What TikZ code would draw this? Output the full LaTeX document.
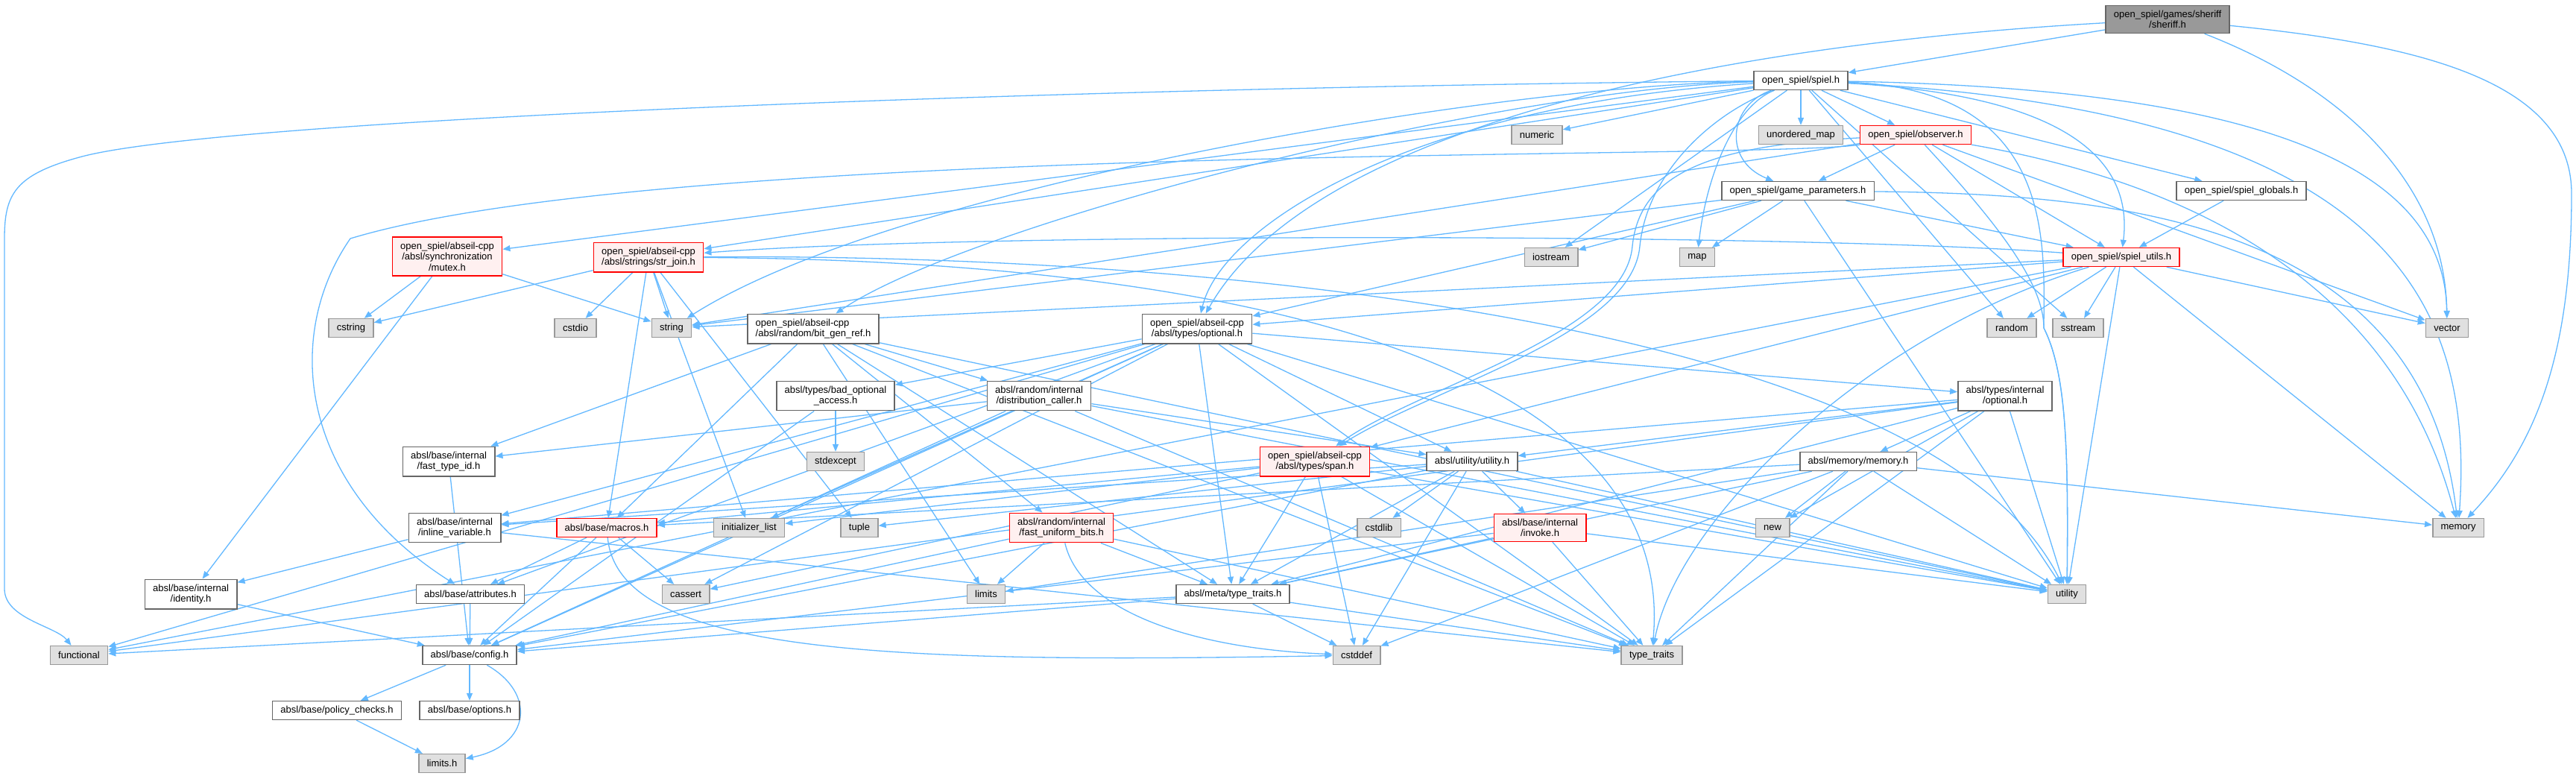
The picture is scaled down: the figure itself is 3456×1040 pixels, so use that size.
\documentclass[tikz,border=0pt]{standalone}
\usepackage{fontspec}
\usepackage{tikz}
\usetikzlibrary{arrows.meta}
\usetikzlibrary{backgrounds}
\newfontfamily\dotfont{Liberation Sans}
\definecolor{dx-edge}{HTML}{63B8FF}
\definecolor{dx-line}{HTML}{666666}
\definecolor{dx-sysfill}{HTML}{E0E0E0}
\definecolor{dx-sysline}{HTML}{999999}
\definecolor{dx-trunc}{HTML}{FFF0F0}
\definecolor{dx-root}{HTML}{999999}

\begin{document}
\begin{tikzpicture}[x=0.5pt, y=-0.5pt, >={Triangle[length=5pt, width=4pt]},
    file/.style={draw=dx-line, fill=white, line width=0.75pt, align=center,
        inner xsep=5.4pt, inner ysep=3.2pt, minimum height=12.4pt,
        font=\dotfont\fontsize{6.5}{7.3}\selectfont},
    sys/.style={file, draw=dx-sysline, fill=dx-sysfill},
    trunc/.style={file, draw=red, fill=dx-trunc},
    root/.style={file, fill=dx-root},
    dep/.style={->, dx-edge, line width=0.65pt}]
    \useasboundingbox (0,0) rectangle (3456,1040);

    % --- Headers of open_spiel ---
    \node[root] (sh) at (2908,26) {open\_spiel/games/sheriff\\/sheriff.h};
    \node[file] (sp) at (2416,108) {open\_spiel/spiel.h};
    \node[sys] (umap) at (2416,181) {unordered\_map};
    \node[trunc] (obs) at (2570,181) {open\_spiel/observer.h};
    \node[sys] (num) at (2062,181) {numeric};
    \node[file] (gp) at (2412,256) {open\_spiel/game\_parameters.h};
    \node[file] (glob) at (3007,256) {open\_spiel/spiel\_globals.h};
    \node[trunc] (su) at (2846,345) {open\_spiel/spiel\_utils.h};
    \node[sys] (ios) at (2081,345) {iostream};
    \node[sys] (map) at (2277,345) {map};
    \node[sys] (rnd) at (2699,440) {random};
    \node[sys] (sst) at (2788,440) {sstream};
    \node[sys] (vec) at (3283,440) {vector};

    % --- Headers of abseil ---
    \node[trunc] (mtx) at (600,344) {open\_spiel/abseil-cpp\\/absl/synchronization\\/mutex.h};
    \node[trunc] (sj) at (870,345) {open\_spiel/abseil-cpp\\/absl/strings/str\_join.h};
    \node[sys] (cstr) at (471,440) {cstring};
    \node[sys] (cstdio) at (772,440) {cstdio};
    \node[sys] (str) at (901,440) {string};
    \node[file, align=left] (bgr) at (1091,441) {open\_spiel/abseil-cpp\\/absl/random/bit\_gen\_ref.h};
    \node[file] (opt) at (1606,441) {open\_spiel/abseil-cpp\\/absl/types/optional.h};
    \node[file] (bad) at (1121,531) {absl/types/bad\_optional\\\_access.h};
    \node[file] (dc) at (1394,531) {absl/random/internal\\/distribution\_caller.h};
    \node[file] (iopt) at (2690,531) {absl/types/internal\\/optional.h};
    \node[file] (fti) at (602,619) {absl/base/internal\\/fast\_type\_id.h};
    \node[sys] (stdx) at (1121,619) {stdexcept};
    \node[trunc] (span) at (1764,619) {open\_spiel/abseil-cpp\\/absl/types/span.h};
    \node[file] (uu) at (1975,619) {absl/utility/utility.h};
    \node[file] (mm) at (2493,619) {absl/memory/memory.h};
    \node[file] (iv) at (610,708) {absl/base/internal\\/inline\_variable.h};
    \node[trunc] (mac) at (814,708) {absl/base/macros.h};
    \node[sys] (ilist) at (1005,708) {initializer\_list};
    \node[sys] (tup) at (1153,708) {tuple};
    \node[trunc] (fub) at (1424,708) {absl/random/internal\\/fast\_uniform\_bits.h};
    \node[sys] (cstdlib) at (1850,708) {cstdlib};
    \node[trunc] (inv) at (2066,708) {absl/base/internal\\/invoke.h};
    \node[sys] (newh) at (2378,708) {new};
    \node[sys] (mem) at (3298,708) {memory};
    \node[file] (idn) at (256,797) {absl/base/internal\\/identity.h};
    \node[file] (attr) at (631,797) {absl/base/attributes.h};
    \node[sys] (cas) at (920,797) {cassert};
    \node[sys] (lim) at (1323,797) {limits};
    \node[file] (meta) at (1654,797) {absl/meta/type\_traits.h};
    \node[sys] (util) at (2773,797) {utility};
    \node[sys] (fun) at (106,879) {functional};
    \node[file] (cfg) at (630,879) {absl/base/config.h};
    \node[sys] (cdef) at (1820,879) {cstddef};
    \node[sys] (tt) at (2216,879) {type\_traits};
    \node[file] (pc) at (452,953) {absl/base/policy\_checks.h};
    \node[file] (opts) at (630,953) {absl/base/options.h};
    \node[sys] (limh) at (593,1024) {limits.h};

    \begin{scope}[on background layer]
        % --- sheriff.h ---
        \path (sh) edge[dep] (sp);
        \draw[dep] (sh) .. controls (2300,60) and (1760,170) .. (opt);
        \draw[dep] (sh) .. controls (3150,120) and (3280,250) .. (vec);
        \draw[dep] (sh) .. controls (3250,60) and (3450,110) .. (3450,260)
            .. controls (3450,480) and (3400,600) .. (mem);

        % --- spiel.h ---
        \draw[dep] (sp) .. controls (1400,118) and (300,160) .. (110,210)
            .. controls (20,234) and (6,260) .. (6,320) -- (6,790)
            .. controls (6,830) and (75,840) .. (fun);
        \draw[dep] (sp) .. controls (1900,140) and (1640,300) .. (opt);
        \draw[dep] (sp) .. controls (3200,150) and (3320,400) .. (mem);
        \draw[dep] (sp) .. controls (2320,140) and (2310,215) .. (gp);
        \draw[dep] (sp) .. controls (2330,140) and (2290,230) .. (map);
        \draw[dep] (sp) .. controls (2800,130) and (2860,230) .. (su);
        \draw[dep] (sp) .. controls (3100,120) and (3280,250) .. (vec);
        \draw[dep] (sp) .. controls (2760,120) and (2742,330) .. (2742,440)
            .. controls (2772,500) and (2775,600) .. (util);
        \draw[dep] (sp) .. controls (2000,115) and (1200,250) .. (str);
        \draw[dep] (sp) .. controls (2000,120) and (1300,300) .. (bgr);
        \draw[dep] (sp) .. controls (2300,150) and (2210,230) .. (2200,330)
            .. controls (2190,450) and (1920,520) .. (span);
        \path (sp) edge[dep] (umap) edge[dep] (obs) edge[dep] (glob) edge[dep] (num)
            edge[dep] (ios) edge[dep] (rnd) edge[dep] (sst) edge[dep] (mtx) edge[dep] (sj);

        % --- observer, parameters, globals, utils ---
        \draw[dep] (obs) .. controls (2300,195) and (2200,230) .. (2190,330)
            .. controls (2180,450) and (1900,520) .. (span);
        \draw[dep] (obs) .. controls (2680,300) and (2742,380) .. (2742,440)
            .. controls (2772,500) and (2775,600) .. (util);
        \draw[dep] (obs) .. controls (2850,230) and (3200,330) .. (mem);
        \draw[dep] (obs.south west) .. controls (2350,215) and (900,190) .. (470,320)
            .. controls (380,450) and (400,650) .. (attr);
        \path (obs) edge[dep] (gp) edge[dep] (su) edge[dep] (str) edge[dep] (vec);
        \draw[dep] (gp) .. controls (2850,260) and (3250,300) .. (mem);
        \path (gp) edge[dep] (map) edge[dep] (ios) edge[dep] (str) edge[dep] (util)
            edge[dep] (opt) edge[dep] (su);
        \path (glob) edge[dep] (su);
        \draw[dep] (su) .. controls (2400,312) and (1300,312) .. (sj);
        \draw[dep] (su) .. controls (2500,450) and (2250,700) .. (tt);
        \path (su) edge[dep] (rnd) edge[dep] (sst) edge[dep] (vec) edge[dep] (mem)
            edge[dep] (util) edge[dep] (str) edge[dep] (fun) edge[dep] (opt)
            edge[dep] (span);

        % --- abseil headers ---
        \path (mtx) edge[dep] (cstr) edge[dep] (str) edge[dep] (idn);
        \draw[dep] (sj) .. controls (1700,350) and (2250,500) .. (tt);
        \draw[dep] (sj) .. controls (1700,340) and (2600,450) .. (util);
        \path (sj) edge[dep] (cstr) edge[dep] (cstdio) edge[dep] (str) edge[dep] (ilist)
            edge[dep] (tup) edge[dep] (mac);
        \path (bgr) edge[dep] (lim) edge[dep] (tt) edge[dep] (util) edge[dep] (fti)
            edge[dep] (mac) edge[dep] (meta) edge[dep] (dc) edge[dep] (fub);
        \path (opt) edge[dep] (cfg) edge[dep] (uu) edge[dep] (cas) edge[dep] (fun)
            edge[dep] (ilist) edge[dep] (tt) edge[dep] (util) edge[dep] (attr)
            edge[dep] (iv) edge[dep] (meta) edge[dep] (bad) edge[dep] (iopt);
        \path (bad) edge[dep] (cfg) edge[dep] (stdx);
        \path (iopt) edge[dep] (fun) edge[dep] (newh) edge[dep] (tt) edge[dep] (util)
            edge[dep] (iv) edge[dep] (mm) edge[dep] (meta) edge[dep] (uu);
        \path (mm) edge[dep] (cdef) edge[dep] (lim) edge[dep] (mem) edge[dep] (newh)
            edge[dep] (tt) edge[dep] (util) edge[dep] (mac) edge[dep] (meta);
        \path (uu) edge[dep] (cdef) edge[dep] (cstdlib) edge[dep] (tup) edge[dep] (util)
            edge[dep] (cfg) edge[dep] (iv) edge[dep] (inv) edge[dep] (meta);
        \path (inv) edge[dep] (tt) edge[dep] (util) edge[dep] (meta) edge[dep] (cfg);
        \path (meta) edge[dep] (cdef) edge[dep] (fun) edge[dep] (tt) edge[dep] (cfg);
        \draw[dep] (fub) .. controls (1450,820) and (1600,870) .. (cdef);
        \path (fub) edge[dep] (lim) edge[dep] (tt) edge[dep] (cfg) edge[dep] (meta);
        \path (dc) edge[dep] (util) edge[dep] (tt) edge[dep] (cfg) edge[dep] (fti)
            edge[dep] (uu);
        \path (span) edge[dep] (cas) edge[dep] (cdef) edge[dep] (ilist) edge[dep] (tt)
            edge[dep] (util) edge[dep] (mac) edge[dep] (meta);

        % --- absl/base ---
        \path (fti) edge[dep] (cfg);
        \path (iv) edge[dep] (tt) edge[dep] (idn);
        \path (idn) edge[dep] (cfg);
        \draw[dep] (mac) .. controls (830,880) and (1200,890) .. (cdef);
        \path (mac) edge[dep] (cas) edge[dep] (attr) edge[dep] (cfg);
        \path (attr) edge[dep] (cfg);
        \path (cfg) edge[dep] (opts) edge[dep] (pc);
        \draw[dep] (cfg) .. controls (720,930) and (712,1000) .. (limh);
        \path (pc) edge[dep] (limh);
    \end{scope}
\end{tikzpicture}
\end{document}
